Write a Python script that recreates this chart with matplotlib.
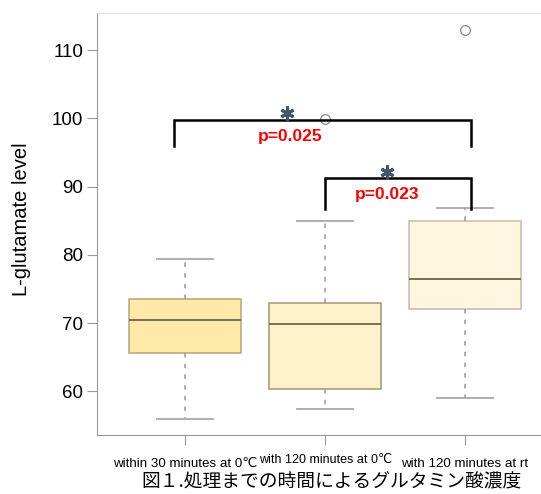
import matplotlib

matplotlib.use("Agg")

import matplotlib.pyplot as plt

plt.rcParams["font.family"] = ["Liberation Sans", "DejaVu Sans"]

# box statistics
groups = ["within 30 minutes at 0\u2103", "with 120 minutes at 0\u2103", "with 120 minutes at rt"]
whislo = [56.0, 57.4, 59.0]
q1 = [65.6, 60.4, 72.0]
med = [70.5, 69.8, 76.5]
q3 = [73.6, 72.9, 84.9]
whishi = [79.4, 84.9, 86.9]
fliers = [[], [99.9], [112.9]]

box_colors = ["#FEE9A8", "#FFF1CA", "#FFF6E0"]
edge_colors = ["#B5A67A", "#A39673", "#C4BCAC"]

# significance brackets: (left x, right x, top level, leg bottom, p text)
brackets = [
    (0.92, 3.04, 99.75, 95.9, "p=0.025"),
    (2.0, 3.04, 91.2, 86.8, "p=0.023"),
]
star_x = [1.73, 2.44]
p_pos = [(1.75, 97.4), (2.44, 88.8)]

fig = plt.figure(figsize=(5.41, 4.94), dpi=100)
ax = fig.add_axes([0.1793, 0.1194, 0.8207, 0.8549])

stats = []
for i in range(3):
    stats.append({
        "whislo": whislo[i], "q1": q1[i], "med": med[i], "q3": q3[i],
        "whishi": whishi[i], "fliers": fliers[i], "label": groups[i],
    })

bp = ax.bxp(
    stats, positions=[1, 2, 3], widths=0.8, patch_artist=True,
    showfliers=True,
    whiskerprops=dict(color="#9a9a9a", linewidth=1.1, linestyle=(0, (3, 4))),
    capprops=dict(color="#a8a8a8", linewidth=1.3),
    medianprops=dict(color="#6E6548", linewidth=1.3),
    flierprops=dict(marker="o", markerfacecolor="none", markeredgecolor="#8a8a8a",
                    markersize=7, markeredgewidth=0.9),
)
for patch, fc, ec in zip(bp["boxes"], box_colors, edge_colors):
    patch.set_facecolor(fc)
    patch.set_edgecolor(ec)
    patch.set_linewidth(1.1)
for cap in bp["caps"]:
    x0, x1 = cap.get_xdata()
    c = (x0 + x1) / 2
    cap.set_xdata([c - 0.2, c + 0.2])

# brackets
for (xa, xb, top, bot, ptxt), sx, (px, py) in zip(brackets, star_x, p_pos):
    ax.plot([xa, xa, xb, xb], [bot, top, top, bot], color="black", linewidth=1.8,
            solid_joinstyle="miter", zorder=5)
    ax.plot(sx, top + 1.0, marker=(6, 2, 0), color="#44546A", markersize=10,
            markeredgewidth=2.2, zorder=6)
    ax.text(px, py, ptxt, color="#FF0000", fontsize=12.5, fontweight="bold",
            ha="center", va="center", zorder=6)

ax.set_xlim(0.371, 3.543)
ax.set_ylim(53.6, 115.5)
ax.set_yticks([60, 70, 80, 90, 100, 110])
ax.set_xticks([1, 2, 3])
ax.set_xticklabels([])
ax.tick_params(axis="y", length=7, color="#9a9a9a", labelsize=13.5, pad=3)
ax.tick_params(axis="x", length=7, color="#9a9a9a")

# x labels sit at slightly different heights in the original
label_size = [9.6, 9.0, 9.6]
label_drop = [4.2, 3.6, 4.2]
for i, g in enumerate(groups):
    ax.text(i + 1, 53.6 - label_drop[i], g, fontsize=label_size[i],
            ha="center", va="center", family=["Liberation Sans", "DejaVu Sans"])

ax.spines["left"].set_color("#9a9a9a")
ax.spines["bottom"].set_color("#9a9a9a")
ax.spines["top"].set_color("#e2e2e2")
ax.spines["right"].set_visible(False)

ax.set_ylabel("L-glutamate level", fontsize=14.5)
ax.yaxis.set_label_coords(-0.148, 0.51)

fig.text(0.612, 0.024, "図１.処理までの時間によるグルタミン酸濃度", fontsize=13.5,
         ha="center", va="center", family=["Noto Sans CJK JP", "DejaVu Sans"])

fig.savefig("out.png", dpi=100)
